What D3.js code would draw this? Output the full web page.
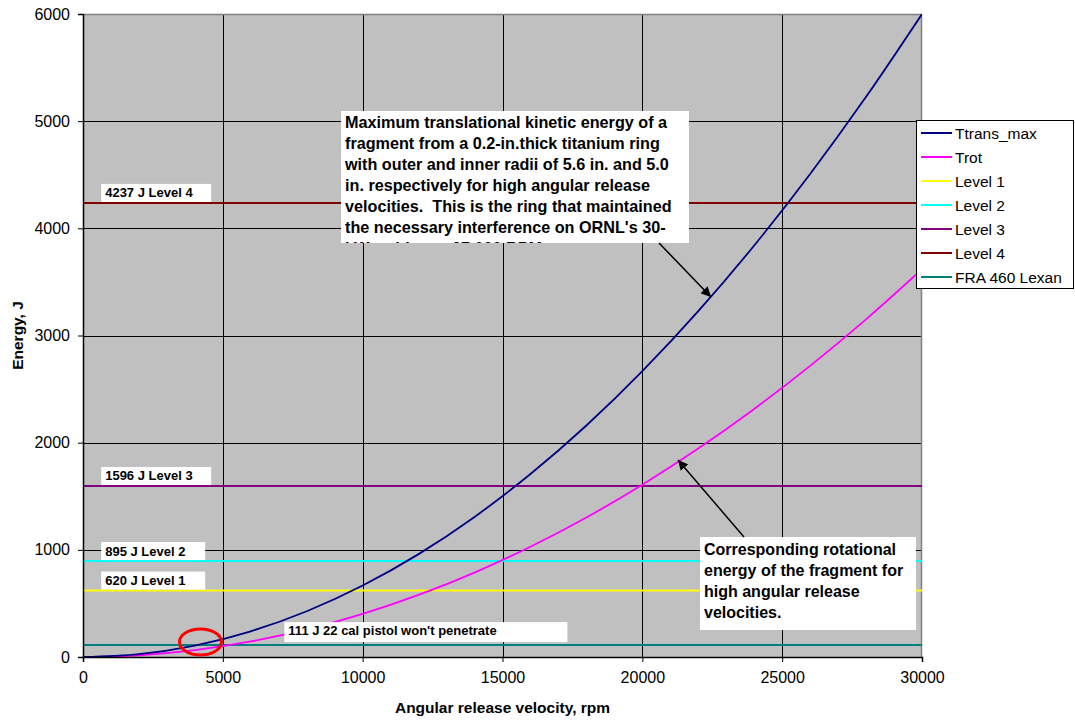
<!DOCTYPE html>
<html>
<head>
<meta charset="utf-8">
<script src="https://cdn.jsdelivr.net/npm/d3@7/dist/d3.min.js"></script>
<style>
  html, body { margin: 0; padding: 0; background: #fff; }
  svg { display: block; font-family: "Liberation Sans", Arial, sans-serif; }
  svg text { white-space: pre; }
</style>
</head>
<body>
<svg id="chart" width="1075" height="721"></svg>
<script>
// Angular release velocity samples (rpm)
const rpm = [0, 2000, 4000, 6000, 8000, 10000, 12000, 14000, 16000, 18000,
             20000, 22000, 24000, 26000, 28000, 30000];
// Maximum translational kinetic energy of the fragment (J)
const ttransMax = [0, 27, 107, 240, 427, 667, 960, 1307, 1707, 2160,
                   2667, 3227, 3840, 4507, 5227, 6000];
// Rotational energy of the fragment (J)
const trot = [0, 16, 64, 145, 257, 402, 579, 788, 1029, 1302,
              1608, 1945, 2315, 2717, 3151, 3618];

// Penetration threshold levels (J)
const levelNames  = ["Level 1", "Level 2", "Level 3", "Level 4", "FRA 460 Lexan"];
const levelValues = [620, 895, 1596, 4237, 111];
const levelLabels = ["620 J Level 1", "895 J Level 2", "1596 J Level 3",
                     "4237 J Level 4", "111 J 22 cal pistol won't penetrate"];

const legendNames = ["Ttrans_max", "Trot", "Level 1", "Level 2", "Level 3", "Level 4", "FRA 460 Lexan"];
const legendColors = ["#000080", "#FF00FF", "#FFFF00", "#00FFFF", "#800080", "#800000", "#008080"];

const xTicks = [0, 5000, 10000, 15000, 20000, 25000, 30000];
const yTicks = [0, 1000, 2000, 3000, 4000, 5000, 6000];

const noteMain = [
  "Maximum translational kinetic energy of a",
  "fragment from a 0.2-in.thick titanium ring",
  "with outer and inner radii of 5.6 in. and 5.0",
  "in. respectively for high angular release",
  "velocities.  This is the ring that maintained",
  "the necessary interference on ORNL's 30-",
  "kW turbine at 27,000 RPM."
];
const noteRot = [
  "Corresponding rotational",
  "energy of the fragment for",
  "high angular release",
  "velocities."
];

const svg = d3.select("#chart");
const plot = { left: 83, right: 922, top: 14, bottom: 657 };

const x = d3.scaleLinear().domain([0, 30000]).range([plot.left, plot.right]);
const y = d3.scaleLinear().domain([0, 6000]).range([plot.bottom, plot.top]);

// Plot background
svg.append("rect")
  .attr("x", plot.left).attr("y", plot.top)
  .attr("width", plot.right - plot.left).attr("height", plot.bottom - plot.top)
  .attr("fill", "#C0C0C0");

// Gridlines
const grid = svg.append("g").attr("stroke", "#000").attr("stroke-width", 1);
grid.selectAll(".gx").data(xTicks.slice(1, -1)).join("line")
  .attr("x1", d => Math.round(x(d)) + 0.5).attr("x2", d => Math.round(x(d)) + 0.5)
  .attr("y1", plot.top).attr("y2", plot.bottom);
grid.selectAll(".gy").data(yTicks.slice(1, -1)).join("line")
  .attr("x1", plot.left).attr("x2", plot.right)
  .attr("y1", d => Math.round(y(d)) + 0.5).attr("y2", d => Math.round(y(d)) + 0.5);

// Frame top/right
svg.append("path")
  .attr("d", `M${plot.left},${plot.top + 0.5}H${plot.right - 0.5}V${plot.bottom}`)
  .attr("fill", "none").attr("stroke", "#808080").attr("stroke-width", 1.5);

svg.append("clipPath").attr("id", "plotClip").append("rect")
  .attr("x", plot.left).attr("y", plot.top)
  .attr("width", plot.right - plot.left).attr("height", plot.bottom - plot.top);

const series = svg.append("g").attr("clip-path", "url(#plotClip)");

// Horizontal threshold levels
const levelColorOf = n => legendColors[legendNames.indexOf(n)];
series.selectAll(".level").data(levelValues).join("line")
  .attr("x1", x(0)).attr("x2", x(30000))
  .attr("y1", d => y(d)).attr("y2", d => y(d))
  .attr("stroke", (d, i) => levelColorOf(levelNames[i]))
  .attr("stroke-width", 2);

// Energy curves
const line = d3.line()
  .x(d => x(d[0])).y(d => y(d[1]))
  .curve(d3.curveMonotoneX);
series.append("path")
  .datum(rpm.map((r, i) => [r, trot[i]]))
  .attr("d", line).attr("fill", "none")
  .attr("stroke", "#FF00FF").attr("stroke-width", 1.8);
series.append("path")
  .datum(rpm.map((r, i) => [r, ttransMax[i]]))
  .attr("d", line).attr("fill", "none")
  .attr("stroke", "#000080").attr("stroke-width", 1.8);

// Axes
const xAxis = d3.axisBottom(x).tickValues(xTicks).tickSize(5).tickPadding(10).tickFormat(d3.format("d"));
const yAxis = d3.axisLeft(y).tickValues(yTicks).tickSize(5).tickPadding(8).tickFormat(d3.format("d"));

const gx = svg.append("g").attr("transform", `translate(0,${plot.bottom})`).call(xAxis);
const gy = svg.append("g").attr("transform", `translate(${plot.left},0)`).call(yAxis);
[gx, gy].forEach(g => {
  g.select(".domain").attr("stroke", "#000").attr("stroke-width", 1.5);
  g.selectAll(".tick line").attr("stroke", "#000");
  g.selectAll(".tick text").attr("font-size", 16).attr("fill", "#000")
    .attr("font-family", "'Liberation Sans', Arial, sans-serif");
});

// Axis titles
svg.append("text")
  .attr("x", (plot.left + plot.right) / 2).attr("y", 713)
  .attr("text-anchor", "middle").attr("font-size", 15.5).attr("font-weight", "bold")
  .text("Angular release velocity, rpm");
svg.append("text")
  .attr("transform", `translate(23,${(plot.top + plot.bottom) / 2}) rotate(-90)`)
  .attr("text-anchor", "middle").attr("font-size", 15.5).attr("font-weight", "bold")
  .text("Energy, J");

// Level labels
const labelBoxes = [
  { x: 650,  w: 104 },
  { x: 650,  w: 104 },
  { x: 650,  w: 110 },
  { x: 650,  w: 110 },
  { x: 7200, w: 283 }
];
const lab = svg.append("g");
levelValues.forEach((v, i) => {
  const b = labelBoxes[i];
  const isLow = i === 4;
  const bottom = isLow ? y(v) - 3 : y(v) - 1;
  const h = isLow ? 20 : 18;
  lab.append("rect")
    .attr("x", x(b.x)).attr("y", bottom - h)
    .attr("width", b.w).attr("height", h).attr("fill", "#fff");
  lab.append("text")
    .attr("x", x(b.x) + 4).attr("y", bottom - (isLow ? 7 : 4.5))
    .attr("font-size", 13).attr("font-weight", "bold")
    .text(levelLabels[i]);
});

// Arrow marker
svg.append("defs").append("marker")
  .attr("id", "arrowHead").attr("viewBox", "0 0 10 10")
  .attr("refX", 10).attr("refY", 5)
  .attr("markerWidth", 10).attr("markerHeight", 10)
  .attr("markerUnits", "userSpaceOnUse")
  .attr("orient", "auto")
  .append("path").attr("d", "M0,0L10,5L0,10z").attr("fill", "#000");

// Main note box (text clipped to the box)
const noteBox = { x: 341, y: 111, w: 348, h: 132 };
svg.append("clipPath").attr("id", "noteClip").append("rect")
  .attr("x", noteBox.x).attr("y", noteBox.y).attr("width", noteBox.w).attr("height", noteBox.h);
svg.append("rect")
  .attr("x", noteBox.x).attr("y", noteBox.y).attr("width", noteBox.w).attr("height", noteBox.h)
  .attr("fill", "#fff");
svg.append("g").attr("clip-path", "url(#noteClip)")
  .selectAll("text").data(noteMain).join("text")
  .attr("x", noteBox.x + 4).attr("y", (d, i) => 128 + i * 21)
  .attr("font-size", 16.2).attr("font-weight", "bold")
  .text(d => d);

// Rotational note box
const rotBox = { x: 700, y: 537, w: 216, h: 93 };
svg.append("rect")
  .attr("x", rotBox.x).attr("y", rotBox.y).attr("width", rotBox.w).attr("height", rotBox.h)
  .attr("fill", "#fff");
svg.append("g").selectAll("text").data(noteRot).join("text")
  .attr("x", rotBox.x + 4).attr("y", (d, i) => 555 + i * 21)
  .attr("font-size", 16).attr("font-weight", "bold")
  .text(d => d);

// Arrows pointing at the curves
svg.append("line")
  .attr("x1", 659).attr("y1", 243).attr("x2", 711).attr("y2", 297)
  .attr("stroke", "#000").attr("stroke-width", 1.5).attr("marker-end", "url(#arrowHead)");
svg.append("line")
  .attr("x1", 744).attr("y1", 537).attr("x2", 678).attr("y2", 460)
  .attr("stroke", "#000").attr("stroke-width", 1.5).attr("marker-end", "url(#arrowHead)");

// Highlight where the curves cross the pistol threshold
svg.append("ellipse")
  .attr("cx", x(4200)).attr("cy", y(140))
  .attr("rx", 21).attr("ry", 13)
  .attr("fill", "none").attr("stroke", "#FF0000").attr("stroke-width", 3);

// Legend
const lg = svg.append("g");
lg.append("rect")
  .attr("x", 916.5).attr("y", 120.5).attr("width", 157).attr("height", 168)
  .attr("fill", "#fff").attr("stroke", "#000").attr("stroke-width", 1);
legendNames.forEach((n, i) => {
  const cy = 133 + i * 24;
  lg.append("line")
    .attr("x1", 921).attr("x2", 952).attr("y1", cy).attr("y2", cy)
    .attr("stroke", legendColors[i]).attr("stroke-width", 2);
  lg.append("text")
    .attr("x", 955).attr("y", cy + 5.5)
    .attr("font-size", 15.5)
    .text(n);
});
</script>
</body>
</html>
